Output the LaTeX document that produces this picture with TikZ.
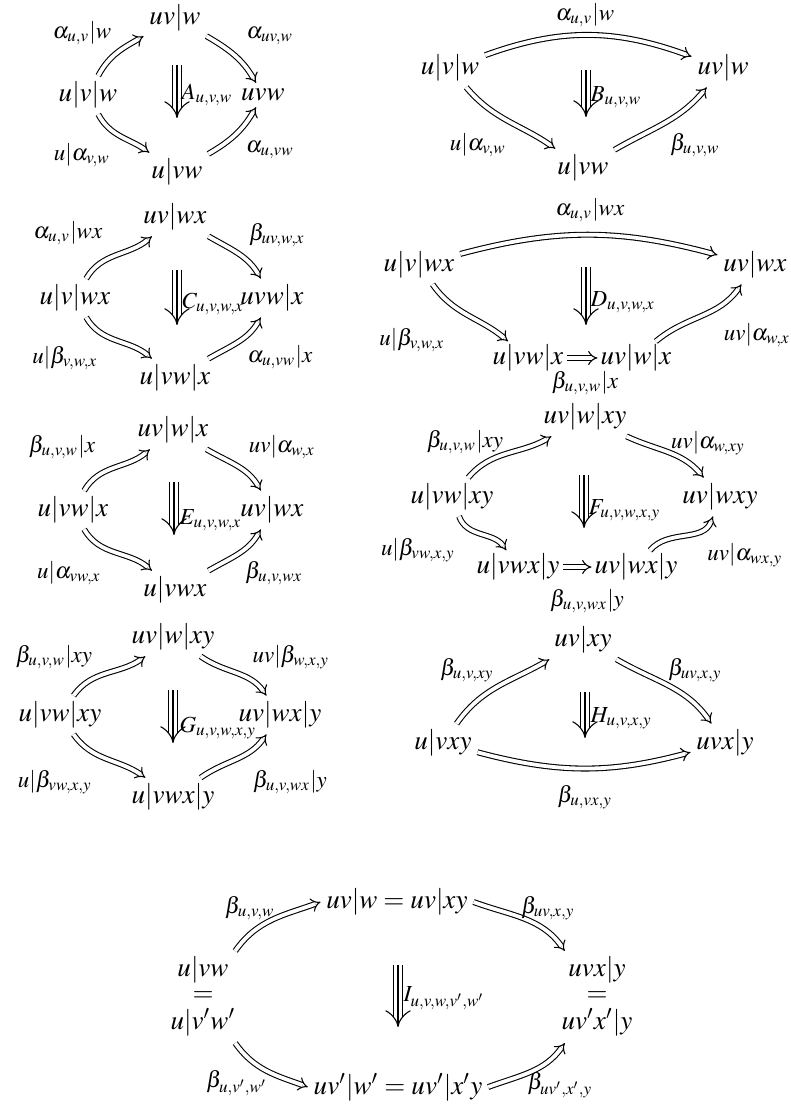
\documentclass[tikz,border=0pt]{standalone}
\usepackage{mathptmx}
\usetikzlibrary{arrows.meta}
\begin{document}
\begin{tikzpicture}[x=0.37pt,y=0.37pt,
 obj/.style={inner sep=2pt},
 stk/.style={inner sep=2pt,font=\def\arraystretch{0.76}},
 lab/.style={inner sep=0pt,font=\fontsize{8.5}{10}\selectfont},
 dbl/.style={double,double distance=1.4pt,line width=0.4pt,-{Implies[scale=1.2]}},
 trip/.style={double,double distance=3pt,line width=0.4pt,-{Implies}},
 mid/.style={line width=0.4pt,shorten >=1pt}]
\useasboundingbox (0,0) rectangle (791,-1108);
% ---------- A
\node[obj] (A1) at (88,-95) {$u|v|w$};
\node[obj] (A2) at (175,-18) {$uv|w$};
\node[obj] (A3) at (263,-95) {$uvw$};
\node[obj] (A4) at (177,-172) {$u|vw$};
\draw[dbl] (A1) to[out=62,in=-150] (A2);
\draw[dbl] (A2) to[out=-30,in=120] (A3);
\draw[dbl] (A1) to[out=-62,in=145] (A4);
\draw[dbl] (A4) to[out=30,in=-120] (A3);
\node[lab] (Aa) at (82,-33) {$\alpha_{u,v}|w$};
\node[lab] (Ab) at (270,-36) {$\alpha_{uv,w}$};
\node[lab] (Ac) at (82,-155) {$u|\alpha_{v,w}$};
\node[lab] (Ad) at (270,-150) {$\alpha_{u,vw}$};
\coordinate (At) at (177,-65); \coordinate (Ab2) at (177,-118);
\draw[trip] (At) -- (Ab2); \draw[mid] (At) -- (Ab2);
\node[lab,anchor=west] (AL) at (181,-95) {$A_{u,v,w}$};
% ---------- B
\node[obj] (B1) at (450,-68) {$u|v|w$};
\node[obj] (B2) at (723,-68) {$uv|w$};
\node[obj] (B3) at (583,-168) {$u|vw$};
\draw[dbl] (B1) to[out=20,in=160] (B2);
\draw[dbl] (B1) to[out=-50,in=145] (B3);
\draw[dbl] (B3) to[out=30,in=-130] (B2);
\node[lab] (Ba) at (585,-15) {$\alpha_{u,v}|w$};
\node[lab] (Bc) at (478,-145) {$u|\alpha_{v,w}$};
\node[lab] (Bd) at (695,-145) {$\beta_{u,v,w}$};
\coordinate (Bt) at (586,-70); \coordinate (Bb) at (586,-117);
\draw[trip] (Bt) -- (Bb); \draw[mid] (Bt) -- (Bb);
\node[lab,anchor=west] (BL) at (590,-97) {$B_{u,v,w}$};
% ---------- C
\node[obj] (C1) at (75,-298) {$u|v|wx$};
\node[obj] (C2) at (175,-217) {$uv|wx$};
\node[obj] (C3) at (272,-298) {$uvw|x$};
\node[obj] (C4) at (175,-378) {$u|vw|x$};
\draw[dbl] (C1) to[out=60,in=-140] (C2);
\draw[dbl] (C2) to[out=-30,in=120] (C3);
\draw[dbl] (C1) to[out=-60,in=140] (C4);
\draw[dbl] (C4) to[out=30,in=-120] (C3);
\node[lab] (Ca) at (68,-233) {$\alpha_{u,v}|wx$};
\node[lab] (Cb) at (277,-235) {$\beta_{uv,w,x}$};
\node[lab] (Cc) at (65,-358) {$u|\beta_{v,w,x}$};
\node[lab] (Cd) at (280,-357) {$\alpha_{u,vw}|x$};
\coordinate (Ct) at (177,-270); \coordinate (Cb2) at (177,-325);
\draw[trip] (Ct) -- (Cb2); \draw[mid] (Ct) -- (Cb2);
\node[lab,anchor=west] (CL) at (182,-304) {$C_{u,v,w,x}$};
% ---------- D
\node[obj] (D1) at (419,-265) {$u|v|wx$};
\node[obj] (D2) at (755,-265) {$uv|wx$};
\node[inner sep=1pt] (D3) at (528,-358) {$u|vw|x$};
\node[inner sep=1pt] (D4) at (636,-358) {$uv|w|x$};
\draw[dbl] (D1) to[out=15,in=165] (D2);
\draw[dbl] (D1) to[out=-55,in=140] (D3);
\draw[dbl] (D4) to[out=40,in=-125] (D2);
\draw[dbl] (D3) -- (D4);
\node[lab] (Da) at (590,-210) {$\alpha_{u,v}|wx$};
\node[lab] (Dc) at (412,-340) {$u|\beta_{v,w,x}$};
\node[lab] (Dd) at (757,-335) {$uv|\alpha_{w,x}$};
\node[lab] (De) at (585,-383) {$\beta_{u,v,w}|x$};
\coordinate (Dt) at (586,-267); \coordinate (Db) at (586,-325);
\draw[trip] (Dt) -- (Db); \draw[mid] (Dt) -- (Db);
\node[lab,anchor=west] (DL) at (590,-302) {$D_{u,v,w,x}$};
% ---------- E
\node[obj] (E1) at (73,-510) {$u|vw|x$};
\node[obj] (E2) at (173,-430) {$uv|w|x$};
\node[obj] (E3) at (272,-510) {$uv|wx$};
\node[obj] (E4) at (175,-590) {$u|vwx$};
\draw[dbl] (E1) to[out=60,in=-140] (E2);
\draw[dbl] (E2) to[out=-30,in=120] (E3);
\draw[dbl] (E1) to[out=-60,in=140] (E4);
\draw[dbl] (E4) to[out=30,in=-120] (E3);
\node[lab] (Ea) at (62,-447) {$\beta_{u,v,w}|x$};
\node[lab] (Eb) at (282,-447) {$uv|\alpha_{w,x}$};
\node[lab] (Ec) at (69,-573) {$u|\alpha_{vw,x}$};
\node[lab] (Ed) at (274,-573) {$\beta_{u,v,wx}$};
\coordinate (Et) at (174,-482); \coordinate (Eb2) at (174,-535);
\draw[trip] (Et) -- (Eb2); \draw[mid] (Et) -- (Eb2);
\node[lab,anchor=west] (EL) at (179,-520) {$E_{u,v,w,x}$};
% ---------- F
\node[obj] (F1) at (452,-497) {$u|vw|xy$};
\node[obj] (F2) at (585,-417) {$uv|w|xy$};
\node[obj] (F3) at (720,-497) {$uv|wxy$};
\node[inner sep=1pt] (F4) at (518,-567) {$u|vwx|y$};
\node[inner sep=1pt] (F5) at (636,-567) {$uv|wx|y$};
\draw[dbl] (F1) to[out=50,in=-150] (F2);
\draw[dbl] (F2) to[out=-25,in=130] (F3);
\draw[dbl] (F1) to[out=-70,in=125] (F4);
\draw[dbl] (F5) to[out=50,in=-110] (F3);
\draw[dbl] (F4) -- (F5);
\node[lab] (Fa) at (465,-442) {$\beta_{u,v,w}|xy$};
\node[lab] (Fb) at (708,-443) {$uv|\alpha_{w,xy}$};
\node[lab] (Fc) at (418,-550) {$u|\beta_{vw,x,y}$};
\node[lab] (Fd) at (745,-555) {$uv|\alpha_{wx,y}$};
\node[lab] (Fe) at (587,-601) {$\beta_{u,v,wx}|y$};
\coordinate (Ft) at (584,-475); \coordinate (Fb2) at (584,-528);
\draw[trip] (Ft) -- (Fb2); \draw[mid] (Ft) -- (Fb2);
\node[lab,anchor=west] (FL) at (588,-510) {$F_{u,v,w,x,y}$};
% ---------- G
\node[obj] (G1) at (60,-715) {$u|vw|xy$};
\node[obj] (G2) at (173,-637) {$uv|w|xy$};
\node[obj] (G3) at (280,-715) {$uv|wx|y$};
\node[obj] (G4) at (173,-797) {$u|vwx|y$};
\draw[dbl] (G1) to[out=55,in=-145] (G2);
\draw[dbl] (G2) to[out=-35,in=125] (G3);
\draw[dbl] (G1) to[out=-55,in=145] (G4);
\draw[dbl] (G4) to[out=35,in=-125] (G3);
\node[lab] (Ga) at (54,-657) {$\beta_{u,v,w}|xy$};
\node[lab] (Gb) at (291,-657) {$uv|\beta_{w,x,y}$};
\node[lab] (Gc) at (55,-782) {$u|\beta_{vw,x,y}$};
\node[lab] (Gd) at (290,-782) {$\beta_{u,v,wx}|y$};
\coordinate (Gt) at (173,-690); \coordinate (Gb2) at (173,-743);
\draw[trip] (Gt) -- (Gb2); \draw[mid] (Gt) -- (Gb2);
\node[lab,anchor=west] (GL) at (179,-728) {$G_{u,v,w,x,y}$};
% ---------- H
\node[obj] (H1) at (443,-743) {$u|vxy$};
\node[obj] (H2) at (583,-640) {$uv|xy$};
\node[obj] (H3) at (725,-743) {$uvx|y$};
\draw[dbl] (H1) to[out=55,in=-150] (H2);
\draw[dbl] (H2) to[out=-30,in=125] (H3);
\draw[dbl] (H1) to[out=-15,in=-165] (H3);
\node[lab] (Ha) at (467,-670) {$\beta_{u,v,xy}$};
\node[lab] (Hb) at (695,-670) {$\beta_{uv,x,y}$};
\node[lab] (Hc) at (585,-797) {$\beta_{u,vx,y}$};
\coordinate (Ht) at (585,-692); \coordinate (Hb2) at (585,-738);
\draw[trip] (Ht) -- (Hb2); \draw[mid] (Ht) -- (Hb2);
\node[lab,anchor=west] (HL) at (590,-718) {$H_{u,v,x,y}$};
% ---------- I
\node[stk] (I1) at (203,-997) {$\begin{array}{@{}c@{}}u|vw\\=\\u|v'w'\end{array}$};
\node[obj] (I2) at (397,-902) {$uv|w=uv|xy$};
\node[stk] (I3) at (597,-997) {$\begin{array}{@{}c@{}}uvx|y\\=\\uv'x'|y\end{array}$};
\node[obj] (I4) at (398,-1087) {$uv'|w'=uv'|x'y$};
\draw[dbl] (I1) to[out=55,in=-160] (I2.west);
\draw[dbl] (I2.east) to[out=-20,in=125] (I3);
\draw[dbl] (I1) to[out=-55,in=160] (I4.west);
\draw[dbl] (I4.east) to[out=20,in=-125] (I3);
\node[lab] (Ia) at (250,-908) {$\beta_{u,v,w}$};
\node[lab] (Ib) at (548,-908) {$\beta_{uv,x,y}$};
\node[lab] (Ic) at (237,-1083) {$\beta_{u,v',w'}$};
\node[lab] (Id) at (560,-1085) {$\beta_{uv',x',y}$};
\coordinate (It) at (398,-965); \coordinate (Ib2) at (398,-1027);
\draw[trip] (It) -- (Ib2); \draw[mid] (It) -- (Ib2);
\node[lab,anchor=west] (IL) at (403,-998) {$I_{u,v,w,v',w'}$};
\end{tikzpicture}
\end{document}
